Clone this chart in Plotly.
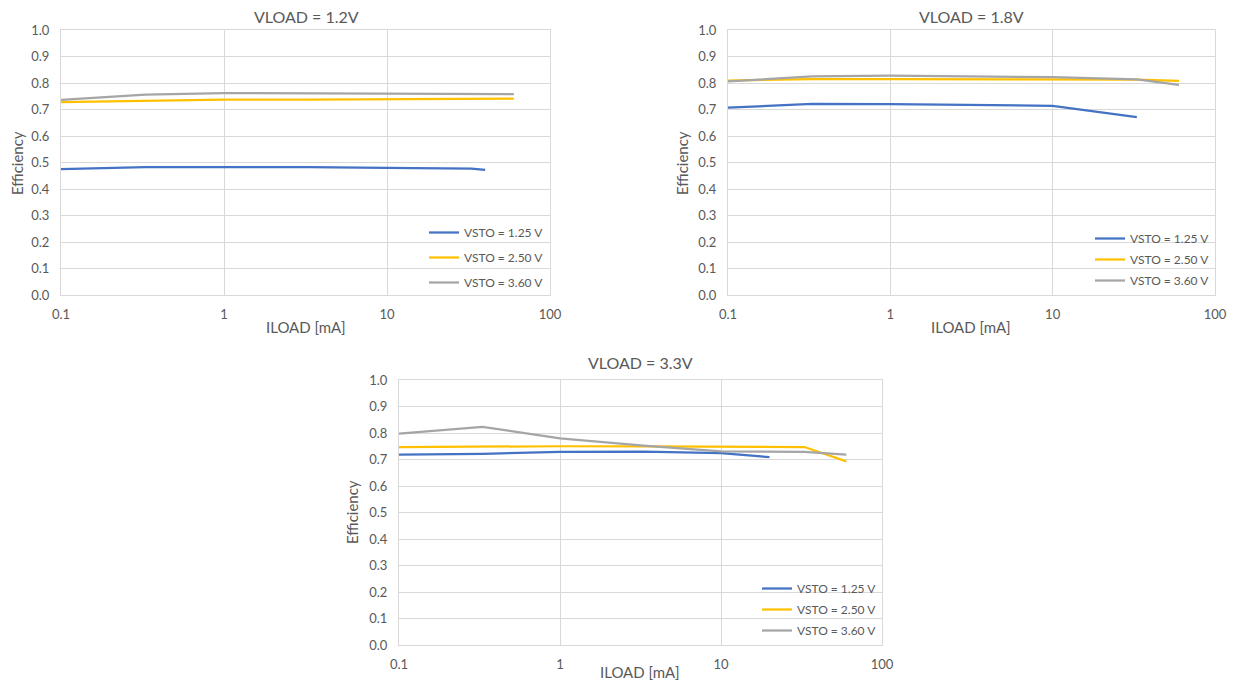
import plotly.graph_objects as go

# ---------------- data ----------------
SERIES_NAMES = ["VSTO = 1.25 V", "VSTO = 2.50 V", "VSTO = 3.60 V"]
SERIES_COLORS = ["#4472C4", "#FFC000", "#A5A5A5"]
CHART_TITLES = ["VLOAD = 1.2V", "VLOAD = 1.8V", "VLOAD = 3.3V"]
X_TICK_VALS = [0.1, 1, 10, 100]
X_TICK_TEXT = ["0.1", "1", "10", "100"]
Y_TICK_VALS = [0.0, 0.1, 0.2, 0.3, 0.4, 0.5, 0.6, 0.7, 0.8, 0.9, 1.0]

# VLOAD = 1.2 V
v12_x_125 = [0.1, 0.33, 1, 3.3, 10, 33, 40]
v12_eff_125 = [0.475, 0.483, 0.483, 0.483, 0.480, 0.477, 0.472]
v12_x_250 = [0.1, 0.33, 1, 3.3, 10, 33, 60]
v12_eff_250 = [0.728, 0.733, 0.737, 0.737, 0.738, 0.738, 0.741]
v12_x_360 = [0.1, 0.33, 1, 3.3, 10, 33, 60]
v12_eff_360 = [0.736, 0.756, 0.762, 0.761, 0.762, 0.760, 0.758]

# VLOAD = 1.8 V
v18_x_125 = [0.1, 0.33, 1, 3.3, 10, 33]
v18_eff_125 = [0.707, 0.721, 0.720, 0.718, 0.714, 0.671]
v18_x_250 = [0.1, 0.33, 1, 3.3, 10, 33, 60]
v18_eff_250 = [0.809, 0.815, 0.815, 0.814, 0.813, 0.813, 0.808]
v18_x_360 = [0.1, 0.33, 1, 3.3, 10, 33, 60]
v18_eff_360 = [0.806, 0.825, 0.828, 0.826, 0.822, 0.814, 0.793]

# VLOAD = 3.3 V
v33_x_125 = [0.1, 0.33, 1, 3.3, 10, 20]
v33_eff_125 = [0.718, 0.721, 0.729, 0.730, 0.724, 0.709]
v33_x_250 = [0.1, 0.33, 1, 3.3, 10, 33, 60]
v33_eff_250 = [0.747, 0.749, 0.750, 0.750, 0.749, 0.747, 0.693]
v33_x_360 = [0.1, 0.33, 1, 3.3, 10, 33, 60]
v33_eff_360 = [0.798, 0.823, 0.780, 0.752, 0.731, 0.729, 0.718]

CHART_DATA = [
    [(v12_x_125, v12_eff_125), (v12_x_250, v12_eff_250), (v12_x_360, v12_eff_360)],
    [(v18_x_125, v18_eff_125), (v18_x_250, v18_eff_250), (v18_x_360, v18_eff_360)],
    [(v33_x_125, v33_eff_125), (v33_x_250, v33_eff_250), (v33_x_360, v33_eff_360)],
]

# ---------------- layout geometry (window pixels) ----------------
WIN_W, WIN_H = 1235, 682
BODY = 8                      # page body margin in the browser
W, H = WIN_W - BODY, WIN_H - BODY
FONT = "Lato, 'Open Sans', sans-serif"
TXT = "#595959"
GRID = "#D9D9D9"

# plot areas: (left, right, top, bottom) in window px
AREAS = [(61, 550, 30, 295), (728, 1215, 30, 295), (399, 882, 380, 645)]
TITLE_POS = [(306, 17), (971, 17), (640, 362)]
YTITLE_POS = [(17, 163), (682, 163), (352, 512)]
XTITLE_POS = [(306, 327), (971, 327), (640, 672)]
LEGEND_POS = [(549, 218, 6), (1215, 224, 2), (882, 574, 2)]  # right x, top y, gap


def px(x):
    return (x - BODY) / W


def py(y):
    return 1 - (y - BODY) / H


fig = go.Figure()
layout = dict(
    width=W, height=H,
    margin=dict(l=0, r=0, t=0, b=0, pad=0, autoexpand=False),
    paper_bgcolor="white", plot_bgcolor="white",
    font=dict(family=FONT, color=TXT, size=13),
    annotations=[],
)

for i, (area, series) in enumerate(zip(AREAS, CHART_DATA)):
    n = i + 1
    xa = "x" if n == 1 else f"x{n}"
    ya = "y" if n == 1 else f"y{n}"
    leg = "legend" if n == 1 else f"legend{n}"
    for j, (xs, ys) in enumerate(series):
        fig.add_trace(go.Scatter(
            x=xs, y=ys, mode="lines", name=SERIES_NAMES[j],
            line=dict(color=SERIES_COLORS[j], width=2.25),
            xaxis=xa, yaxis=ya, legend=leg, legendgroup=f"g{n}{j}",
            showlegend=True,
        ))
    l, r, t, b = area
    xkey = "xaxis" if n == 1 else f"xaxis{n}"
    ykey = "yaxis" if n == 1 else f"yaxis{n}"
    layout[xkey] = dict(
        type="log", range=[-1, 2], domain=[px(l), px(r)], anchor=ya,
        tickvals=X_TICK_VALS, ticktext=X_TICK_TEXT,
        showgrid=True, gridcolor=GRID, gridwidth=1,
        showline=True, linecolor=GRID, mirror=True,
        ticks="outside", ticklen=7, tickcolor="rgba(0,0,0,0)",
        tickfont=dict(size=13, color=TXT), zeroline=False,
        automargin=False, fixedrange=True,
    )
    layout[ykey] = dict(
        range=[0, 1], domain=[py(b), py(t)], anchor=xa,
        tickvals=Y_TICK_VALS, tickformat=".1f",
        showgrid=True, gridcolor=GRID, gridwidth=1,
        showline=True, linecolor=GRID, mirror=True,
        ticks="outside", ticklen=8, tickcolor="rgba(0,0,0,0)",
        tickfont=dict(size=13, color=TXT), zeroline=False,
        automargin=False, fixedrange=True,
    )
    lx, ly, gap = LEGEND_POS[i]
    layout[leg] = dict(
        x=px(lx), y=py(ly), xanchor="right", yanchor="top",
        xref="paper", yref="paper",
        font=dict(size=12, color=TXT), bgcolor="rgba(0,0,0,0)",
        itemwidth=30, tracegroupgap=gap, traceorder="grouped",
    )
    tx, tyy = TITLE_POS[i]
    layout["annotations"].append(dict(
        text=CHART_TITLES[i], x=px(tx), y=py(tyy), xref="paper", yref="paper",
        showarrow=False, xanchor="center", yanchor="middle",
        font=dict(size=16, color=TXT)))
    yx, yy = YTITLE_POS[i]
    layout["annotations"].append(dict(
        text="Efficiency", x=px(yx), y=py(yy), xref="paper", yref="paper",
        showarrow=False, xanchor="center", yanchor="middle", textangle=-90,
        font=dict(size=15, color=TXT)))
    ax, ay = XTITLE_POS[i]
    layout["annotations"].append(dict(
        text="ILOAD [mA]", x=px(ax), y=py(ay), xref="paper", yref="paper",
        showarrow=False, xanchor="center", yanchor="middle",
        font=dict(size=15, color=TXT)))

fig.update_layout(**layout)
fig.write_html("out.html")
